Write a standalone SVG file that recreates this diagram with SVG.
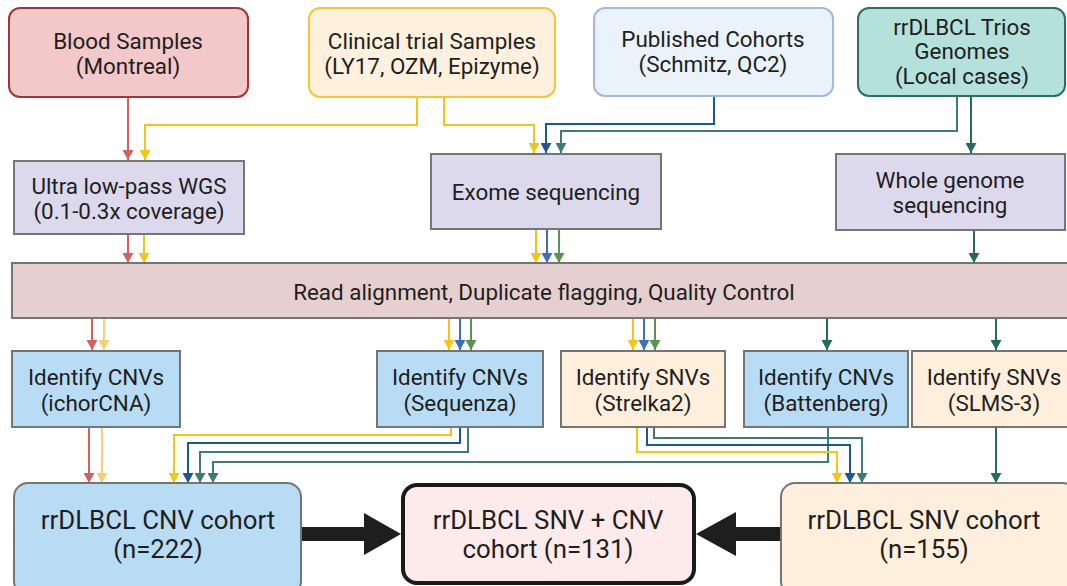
<svg xmlns="http://www.w3.org/2000/svg" width="1067" height="586" viewBox="0 0 1067 586">
<style>
text{font-family:Roboto,"Liberation Sans",sans-serif;font-size:22.4px;fill:#1e1e1e;text-anchor:middle}
.big{font-size:25.8px}
.proc{fill:#dcd9ec;stroke:#757575;stroke-width:2}
.cnv{fill:#b8dcf4;stroke:#757575;stroke-width:2}
.snv{fill:#fdefdc;stroke:#757575;stroke-width:2}
.c{fill:none;stroke-width:2}
.red{stroke:#d35f5f}.yel{stroke:#f1c716}.pyel{stroke:#f3cf75}.blu{stroke:#1d5595}.blu2{stroke:#3e6dc2}.grn{stroke:#5b9452}.tea{stroke:#3e7b76}.dtea{stroke:#246b5b}
</style>
<defs>
<marker id="mRed" markerUnits="userSpaceOnUse" markerWidth="11" markerHeight="11" refX="10" refY="5.5" orient="auto"><path d="M0,0L10,5.5L0,11z" fill="#d35f5f"/></marker>
<marker id="mYel" markerUnits="userSpaceOnUse" markerWidth="11" markerHeight="11" refX="10" refY="5.5" orient="auto"><path d="M0,0L10,5.5L0,11z" fill="#f1c716"/></marker>
<marker id="mPyel" markerUnits="userSpaceOnUse" markerWidth="11" markerHeight="11" refX="10" refY="5.5" orient="auto"><path d="M0,0L10,5.5L0,11z" fill="#f3cf75"/></marker>
<marker id="mBlu" markerUnits="userSpaceOnUse" markerWidth="11" markerHeight="11" refX="10" refY="5.5" orient="auto"><path d="M0,0L10,5.5L0,11z" fill="#1d5595"/></marker>
<marker id="mBlu2" markerUnits="userSpaceOnUse" markerWidth="11" markerHeight="11" refX="10" refY="5.5" orient="auto"><path d="M0,0L10,5.5L0,11z" fill="#3e6dc2"/></marker>
<marker id="mGrn" markerUnits="userSpaceOnUse" markerWidth="11" markerHeight="11" refX="10" refY="5.5" orient="auto"><path d="M0,0L10,5.5L0,11z" fill="#5b9452"/></marker>
<marker id="mTea" markerUnits="userSpaceOnUse" markerWidth="11" markerHeight="11" refX="10" refY="5.5" orient="auto"><path d="M0,0L10,5.5L0,11z" fill="#3e7b76"/></marker>
<marker id="mDtea" markerUnits="userSpaceOnUse" markerWidth="11" markerHeight="11" refX="10" refY="5.5" orient="auto"><path d="M0,0L10,5.5L0,11z" fill="#246b5b"/></marker>
</defs>
<rect width="1067" height="586" fill="#ffffff"/>

<g id="connectors">
<path class="c red" d="M128,97V160" marker-end="url(#mRed)"/>
<path class="c yel" d="M417,97V125H145V160" marker-end="url(#mYel)"/>
<path class="c yel" d="M444,97V125H534V153" marker-end="url(#mYel)"/>
<path class="c blu" d="M714,96V124H546V153" marker-end="url(#mBlu)"/>
<path class="c tea" d="M957,96V131H561V153" marker-end="url(#mTea)"/>
<path class="c dtea" d="M971,96V153" marker-end="url(#mDtea)"/>

<path class="c red" d="M128,234V263" marker-end="url(#mRed)"/>
<path class="c yel" d="M144,234V263" marker-end="url(#mYel)"/>
<path class="c yel" d="M536,229V263" marker-end="url(#mYel)"/>
<path class="c blu2" d="M547,229V263" marker-end="url(#mBlu2)"/>
<path class="c grn" d="M559,229V263" marker-end="url(#mGrn)"/>
<path class="c dtea" d="M974,230V263" marker-end="url(#mDtea)"/>

<path class="c red" d="M92,318V350" marker-end="url(#mRed)"/>
<path class="c pyel" d="M104,318V350" marker-end="url(#mPyel)"/>
<path class="c yel" d="M449,318V350" marker-end="url(#mYel)"/>
<path class="c blu2" d="M460,318V350" marker-end="url(#mBlu2)"/>
<path class="c grn" d="M471,318V350" marker-end="url(#mGrn)"/>
<path class="c yel" d="M633,318V350" marker-end="url(#mYel)"/>
<path class="c blu2" d="M644,318V350" marker-end="url(#mBlu2)"/>
<path class="c grn" d="M655,318V350" marker-end="url(#mGrn)"/>
<path class="c dtea" d="M827,318V350" marker-end="url(#mDtea)"/>
<path class="c dtea" d="M996,318V350" marker-end="url(#mDtea)"/>

<path class="c red" d="M89,427V483" marker-end="url(#mRed)"/>
<path class="c pyel" d="M102,427V483" marker-end="url(#mPyel)"/>
<path class="c yel" d="M451,427V435H174V483" marker-end="url(#mYel)"/>
<path class="c blu" d="M460,427V443H188V483" marker-end="url(#mBlu)"/>
<path class="c tea" d="M468,427V452H200V483" marker-end="url(#mTea)"/>
<path class="c tea" d="M828,427V462H213V483" marker-end="url(#mTea)"/>
<path class="c yel" d="M637,427V452H837V483" marker-end="url(#mYel)"/>
<path class="c blu" d="M647,427V445H850V483" marker-end="url(#mBlu)"/>
<path class="c tea" d="M654,427V438H862V483" marker-end="url(#mTea)"/>
<path class="c dtea" d="M996,427V483" marker-end="url(#mDtea)"/>

<polygon points="301,527 364,527 364,513 401,534 364,555 364,541 301,541" fill="#1e1e1e"/>
<polygon points="781,527 736,527 736,512 696,534 736,556 736,541 781,541" fill="#1e1e1e"/>
</g>

<g id="blood"><rect x="9" y="8" width="239" height="89" rx="11" fill="#f2c8c9" stroke="#a23434" stroke-width="2"/><text x="128" y="48.5">Blood Samples</text><text x="128" y="73.5">(Montreal)</text></g>
<g id="clinical"><rect x="309" y="8" width="246" height="89" rx="11" fill="#fdf0dc" stroke="#f0c832" stroke-width="2"/><text x="432" y="48.5">Clinical trial Samples</text><text x="432" y="73.5">(LY17, OZM, Epizyme)</text></g>
<g id="published"><rect x="594" y="8" width="239" height="88" rx="11" fill="#eaf2fb" stroke="#a3b8e0" stroke-width="2"/><text x="713" y="46.5">Published Cohorts</text><text x="713" y="71.5">(Schmitz, QC2)</text></g>
<g id="trios"><rect x="858" y="8" width="207" height="88" rx="11" fill="#b5e1db" stroke="#2f6d62" stroke-width="2"/><text x="962" y="34.5">rrDLBCL Trios</text><text x="962" y="58.5">Genomes</text><text x="962" y="83.5">(Local cases)</text></g>

<g id="ultra"><rect class="proc" x="14" y="161" width="230" height="73"/><text x="129" y="193.5">Ultra low-pass WGS</text><text x="129" y="218.5">(0.1-0.3x coverage)</text></g>
<g id="exome"><rect class="proc" x="431" y="154" width="230" height="75"/><text x="546" y="199.5">Exome sequencing</text></g>
<g id="wgs"><rect class="proc" x="836" y="154" width="229" height="76"/><text x="950" y="187.5">Whole genome</text><text x="950" y="212.5">sequencing</text></g>

<g id="align"><rect x="12" y="263" width="1062" height="55" fill="#e5cfcf" stroke="#757575" stroke-width="2"/><text x="544" y="299.5">Read alignment, Duplicate flagging, Quality Control</text></g>

<g id="ichor"><rect class="cnv" x="12" y="351" width="168" height="76"/><text x="96" y="384.5">Identify CNVs</text><text x="96" y="410.5">(ichorCNA)</text></g>
<g id="sequenza"><rect class="cnv" x="377" y="351" width="166" height="76"/><text x="460" y="384.5">Identify CNVs</text><text x="460" y="410.5">(Sequenza)</text></g>
<g id="strelka"><rect class="snv" x="561" y="351" width="164" height="76"/><text x="643" y="384.5">Identify SNVs</text><text x="643" y="410.5">(Strelka2)</text></g>
<g id="battenberg"><rect class="cnv" x="744" y="351" width="164" height="76"/><text x="826" y="384.5">Identify CNVs</text><text x="826" y="410.5">(Battenberg)</text></g>
<g id="slms"><rect class="snv" x="912" y="351" width="160" height="76"/><text x="994" y="384.5">Identify SNVs</text><text x="994" y="410.5">(SLMS-3)</text></g>

<g id="cnvcohort"><rect class="cnv" x="14" y="483" width="287" height="112" rx="14"/><text class="big" x="158" y="529">rrDLBCL CNV cohort</text><text class="big" x="158" y="558">(n=222)</text></g>
<g id="combined"><rect x="403" y="485" width="291" height="98" rx="14" fill="#fdebeb" stroke="#1a1a1a" stroke-width="4"/><text class="big" x="548" y="529">rrDLBCL SNV + CNV</text><text class="big" x="548" y="558">cohort (n=131)</text></g>
<g id="snvcohort"><rect class="snv" x="781" y="483" width="295" height="112" rx="14"/><text class="big" x="924" y="529">rrDLBCL SNV cohort</text><text class="big" x="924" y="558">(n=155)</text></g>
</svg>
